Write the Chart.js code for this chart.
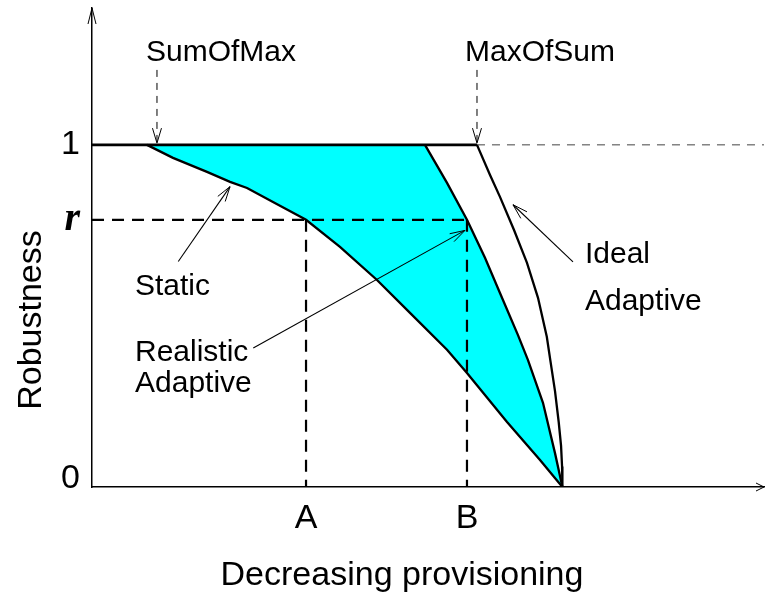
<!DOCTYPE html>
<html>
<head>
<meta charset="utf-8">
<script src="https://cdn.jsdelivr.net/npm/chart.js@4/dist/chart.umd.min.js"></script>
<style>
  html, body { margin: 0; padding: 0; background: #fff; }
  #wrap { width: 765px; height: 593px; }
</style>
</head>
<body>
<div id="wrap"><canvas id="c"></canvas></div>
<script>
// Provisioning runs left to right on an abstract 0..100 scale (less provisioning to the right)
const SUM_OF_MAX = 8.18;
const MAX_OF_SUM = 57.29;
const POINT_A = 31.85;
const POINT_B = 55.8;
const R_LEVEL = 0.781;
const ZERO_ROBUST = 70.0;

// Static provisioning curve
const staticX = [SUM_OF_MAX, 12.05, 17.11, 20.54, 23.07, 26.93, POINT_A, 36.90, 42.41, 47.32, 52.83, 55.80, 61.76, 66.67, ZERO_ROBUST];
const staticY = [1.000, 0.962, 0.921, 0.892, 0.874, 0.833, R_LEVEL, 0.702, 0.605, 0.509, 0.401, 0.333, 0.190, 0.079, 0];

// Realistic adaptive curve
const realisticX = [49.55, 52.83, POINT_B, 58.48, 60.71, 63.39, 64.88, 67.11, 68.90, ZERO_ROBUST];
const realisticY = [1.000, 0.889, R_LEVEL, 0.670, 0.567, 0.444, 0.371, 0.246, 0.099, 0];

// Ideal adaptive curve
const idealX = [MAX_OF_SUM, 59.23, 60.71, 62.80, 64.73, 66.37, 67.68, 68.20, 68.90, 69.45, 69.80, 69.95, ZERO_ROBUST];
const idealY = [1.000, 0.912, 0.848, 0.751, 0.655, 0.553, 0.439, 0.371, 0.280, 0.190, 0.120, 0.060, 0];

// Axis ticks
const xTickValues = [POINT_A, POINT_B];
const xTickLabels = ['A', 'B'];
const yTickValues = [0, R_LEVEL, 1];
const yTickLabels = ['0', 'r', '1'];

// Pointer arrows: [fromX, fromY, toX, toY]
const pointerSumOfMax = [9.67, 1.219, 9.67, 1.005];
const pointerMaxOfSum = [MAX_OF_SUM, 1.219, MAX_OF_SUM, 1.005];
const pointerStatic = [12.84, 0.659, 20.54, 0.878];
const pointerRealistic = [24.0, 0.406, 55.5, 0.750];
const pointerIdeal = [71.58, 0.658, 62.65, 0.825];

// Callout texts: [text, x, baselineY, align]
const notes = [
  ['SumOfMax', 19.2, 1.2456, 'center'],
  ['MaxOfSum', 66.67, 1.2456, 'center'],
  ['Static', 6.4, 0.560, 'left'],
  ['Realistic', 6.4, 0.368, 'left'],
  ['Adaptive', 6.4, 0.278, 'left'],
  ['Ideal', 73.36, 0.655, 'left'],
  ['Adaptive', 73.36, 0.518, 'left']
];

const X_TITLE = 'Decreasing provisioning';
const Y_TITLE = 'Robustness';

const toPts = (xs, ys) => xs.map((x, i) => ({ x: x, y: ys[i] }));
const seg = (p) => [{ x: p[0], y: p[1] }, { x: p[2], y: p[3] }];

const SANS = '"Liberation Sans", Arial, Helvetica, sans-serif';
const CYAN = '#00ffff';

// Upper edge of the shaded gap: the robustness-1 line until the realistic curve departs
const gapUpper = [{ x: SUM_OF_MAX, y: 1 }].concat(toPts(realisticX, realisticY));

const lineDs = (data, extra) => Object.assign({
  data: data, showLine: true, pointRadius: 0, borderColor: '#000',
  borderWidth: 2.2, fill: false, tension: 0
}, extra || {});

const datasets = [
  lineDs(gapUpper, { borderWidth: 0, fill: { target: 1 }, backgroundColor: CYAN, order: 10 }),
  lineDs(toPts(staticX, staticY), { borderWidth: 2.3 }),
  lineDs(toPts(realisticX, realisticY), { borderWidth: 2.3 }),
  lineDs(toPts(idealX, idealY), { borderWidth: 2.3 }),
  lineDs([{ x: 0, y: 1 }, { x: MAX_OF_SUM, y: 1 }], { borderWidth: 2.8 }),
  lineDs([{ x: MAX_OF_SUM, y: 1 }, { x: 100, y: 1 }], { borderWidth: 1, borderColor: '#444', borderDash: [8, 7] }),
  lineDs([{ x: 0, y: R_LEVEL }, { x: POINT_B, y: R_LEVEL }], { borderWidth: 2.2, borderDash: [12, 8] }),
  lineDs([{ x: POINT_A, y: R_LEVEL }, { x: POINT_A, y: 0 }], { borderWidth: 2.2, borderDash: [12, 8] }),
  lineDs([{ x: POINT_B, y: R_LEVEL }, { x: POINT_B, y: 0 }], { borderWidth: 2.2, borderDash: [12, 8] }),
  lineDs(seg(pointerSumOfMax), { borderWidth: 1, borderDash: [7, 6], arrowHead: true }),
  lineDs(seg(pointerMaxOfSum), { borderWidth: 1, borderDash: [7, 6], arrowHead: true }),
  lineDs(seg(pointerStatic), { borderWidth: 1.1, arrowHead: true }),
  lineDs(seg(pointerRealistic), { borderWidth: 1.1, arrowHead: true }),
  lineDs(seg(pointerIdeal), { borderWidth: 1.1, arrowHead: true })
];

function openHead(ctx, x1, y1, x2, y2, len, half) {
  const a = Math.atan2(y2 - y1, x2 - x1);
  const c = Math.cos(a), s = Math.sin(a);
  ctx.beginPath();
  ctx.moveTo(x2 - len * c + half * s, y2 - len * s - half * c);
  ctx.lineTo(x2, y2);
  ctx.lineTo(x2 - len * c - half * s, y2 - len * s + half * c);
  ctx.stroke();
}

const decorations = {
  id: 'decorations',
  afterDatasetsDraw(chart) {
    const ctx = chart.ctx;
    const xs = chart.scales.x, ys = chart.scales.y;
    ctx.save();
    ctx.strokeStyle = '#000';
    ctx.lineWidth = 1;
    ctx.setLineDash([]);
    // arrow heads at the tips of pointer lines
    chart.data.datasets.forEach((ds, i) => {
      if (!ds.arrowHead) return;
      const pts = chart.getDatasetMeta(i).data;
      const p0 = pts[pts.length - 2], p1 = pts[pts.length - 1];
      openHead(ctx, p0.x, p0.y, p1.x, p1.y, 15, 4.5);
    });
    // callout texts
    ctx.fillStyle = '#000';
    ctx.font = '30px ' + SANS;
    ctx.textBaseline = 'alphabetic';
    notes.forEach(n => {
      ctx.textAlign = n[3];
      ctx.fillText(n[0], xs.getPixelForValue(n[1]), ys.getPixelForValue(n[2]));
    });
    ctx.restore();
  },
  afterDraw(chart) {
    const ctx = chart.ctx;
    const area = chart.chartArea;
    ctx.save();
    ctx.strokeStyle = '#000';
    ctx.lineWidth = 1;
    // open arrow heads closing both axes
    openHead(ctx, area.left, area.bottom, area.left, area.top, 16, 4);
    openHead(ctx, area.left, area.bottom, area.right, area.bottom, 8, 4);
    // axis titles
    ctx.fillStyle = '#000';
    ctx.font = '34px ' + SANS;
    ctx.textAlign = 'center';
    ctx.textBaseline = 'alphabetic';
    ctx.fillText(X_TITLE, 402, 585);
    ctx.translate(41, 320);
    ctx.rotate(-Math.PI / 2);
    ctx.fillText(Y_TITLE, 0, 0);
    ctx.restore();
  }
};

// keep the plot area fixed: no extra room reserved for edge tick labels
const noEdgePadding = (s, w, h) => {
  if (w !== undefined) s.width = w;
  if (h !== undefined) s.height = h;
  s.paddingTop = 0; s.paddingBottom = 0; s.paddingLeft = 0; s.paddingRight = 0;
};

// y tick label fonts: serif bold italic for r; the 0 label sits a little above the axis
const yTickFont = (ctx) => {
  if (!ctx.tick) return { family: SANS, size: 34 };
  if (ctx.tick.value === R_LEVEL) {
    return { family: '"Liberation Serif", "Times New Roman", serif', size: 40, style: 'italic', weight: 'bold' };
  }
  if (ctx.tick.value === 0) return { family: SANS, size: 34, lineHeight: '16px' };
  return { family: SANS, size: 34 };
};

new Chart(document.getElementById('c'), {
  type: 'scatter',
  data: { datasets: datasets },
  options: {
    responsive: true,
    maintainAspectRatio: false,
    animation: false,
    events: [],
    layout: { padding: { left: 0, right: 1, top: 8, bottom: 0 } },
    plugins: {
      legend: { display: false },
      tooltip: { enabled: false },
      filler: { drawTime: 'beforeDatasetsDraw' }
    },
    scales: {
      x: {
        type: 'linear', min: 0, max: 100,
        grid: { display: false, drawTicks: false },
        border: { display: true, color: '#000', width: 1.5 },
        afterBuildTicks: (s) => { s.ticks = xTickValues.map(v => ({ value: v })); },
        afterFit: (s) => noEdgePadding(s, undefined, 106),
        ticks: {
          autoSkip: false, maxRotation: 0, padding: 11, color: '#000',
          font: { family: SANS, size: 34 },
          callback: (v, i) => xTickLabels[i]
        }
      },
      y: {
        type: 'linear', min: 0, max: 1.4,
        grid: { display: false, drawTicks: false },
        border: { display: true, color: '#000', width: 1.5 },
        afterBuildTicks: (s) => { s.ticks = yTickValues.map(v => ({ value: v })); },
        afterFit: (s) => noEdgePadding(s, 92, undefined),
        ticks: {
          autoSkip: false, padding: 12, color: '#000',
          font: yTickFont,
          callback: (v, i) => (v === 0 ? [yTickLabels[i], ''] : yTickLabels[i])
        }
      }
    }
  },
  plugins: [decorations]
});
</script>
</body>
</html>
